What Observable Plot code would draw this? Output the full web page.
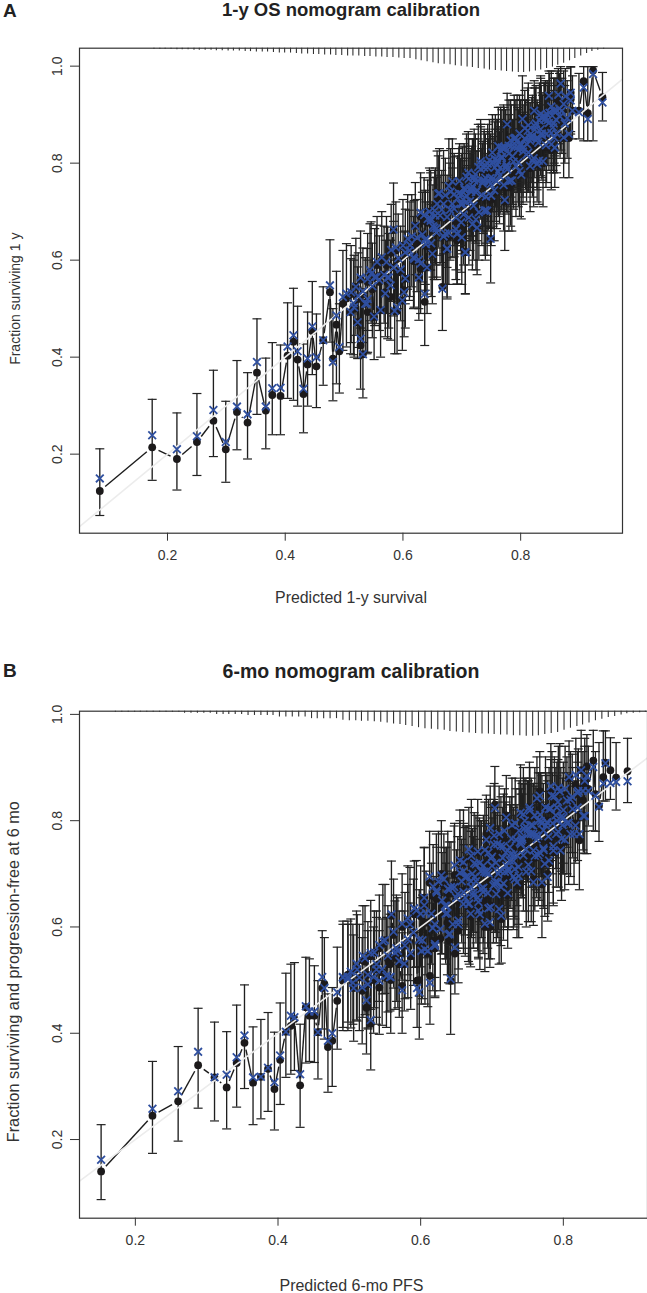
<!DOCTYPE html>
<html><head><meta charset="utf-8">
<script src="https://cdn.jsdelivr.net/npm/d3@7"></script>
<script src="https://cdn.jsdelivr.net/npm/@observablehq/plot@0.6"></script>
<style>
html,body{margin:0;padding:0;background:#fff;width:647px;height:1293px;overflow:hidden}
#page{position:relative;width:647px;height:1293px;font-family:"Liberation Sans",Arial,sans-serif;color:#222}
#page .t{position:absolute;left:0;width:702px;text-align:center;font-weight:bold;line-height:20px;white-space:nowrap}
#page .p{position:absolute;left:3px;font-weight:bold;font-size:19px;line-height:20px}
#a,#b{position:absolute;left:0}
#a{top:0}#b{top:620px}
svg{display:block}
</style></head><body>
<div id="page">
<div id="a"></div><div id="b"></div>
<div class="p" style="top:1px">A</div><div class="t" style="top:0px;font-size:18.5px">1-y OS nomogram calibration</div>
<div class="p" style="top:661px">B</div><div class="t" style="top:661px;font-size:19.5px">6-mo nomogram calibration</div>
</div>
<script>
const xTicksA=[0.2,0.4,0.6,0.8], yTicksA=[0.2,0.4,0.6,0.8,1.0];
const xTicksB=[0.2,0.4,0.6,0.8], yTicksB=[0.2,0.4,0.6,0.8,1.0];

// Panel A: predicted, Kaplan-Meier observed, bias-corrected, upper, lower
const aPred=[.085,.174,.216,.250,.278,.299,.318,.336,.352,.367,.378,.392,.404,.414,.421,.431,.438,.446,.453,
.4645,.476,.481,.487,.492,.498,.504,.511,.517,.523,.528,.532,.539,.546,.540,.551,.555,.562,.570,.574,.579,.586,.590,.599,.584,.604,.602,.611,.619,.627,.637,.638,.630,.647,.657,.667,.669,.675,.687,.692,.701,.706,
.923,.939,.914,.907,.899,.885,.868,.857,.862,.848,.834,.828,.820,.823,.803,.811,.800,.794,.789,.780,.777,.771,.757,.783,.749,.732,.738,.721,.743,.749,.726,.712,.698,.678,.658,.653,.647,.638,.692,.706,.675,.641,.650,.700,.718,.738,.760,.766,.804,.835,.845,.856,.873,.888,
.655,.662,.672,.680,.684,.690,.695,.703,.708,.714,.718,.724,.728,.734,.740,.745,.752,.755,.762,.768,.773,.776,.785,.790,.796,.798,.807,.813,.816,.826,.830,.838,.842,.852,.858,.866,.875];
const aObs=[.124,.214,.190,.225,.269,.210,.287,.265,.368,.290,.322,.320,.403,.432,.395,.324,.385,.454,.381,
.435,.534,.397,.467,.412,.510,.521,.493,.500,.472,.424,.406,.514,.572,.493,.483,.562,.497,.534,.565,.524,.495,.495,.517,.662,.562,.538,.624,.607,.564,.514,.641,.582,.679,.665,.545,.723,.624,.710,.641,.716,.617,
.991,.936,.903,.969,.908,.932,.963,.850,.908,.939,.867,.798,.805,.908,.894,.839,.839,.846,.850,.836,.880,.829,.808,.764,.757,.788,.764,.764,.702,.644,.667,.688,.716,.753,.716,.667,.681,.643,.654,.616,.623,.585,.613,.647,.674,.702,.798,.826,.832,.894,.901,.908,.922,.908,
.690,.735,.650,.700,.760,.660,.735,.690,.770,.720,.750,.680,.790,.730,.700,.760,.820,.740,.780,.830,.720,.790,.760,.850,.800,.780,.870,.820,.790,.880,.840,.800,.890,.860,.830,.910,.880];
const aCorr=[.150,.239,.210,.237,.291,.225,.298,.282,.390,.298,.336,.337,.422,.445,.412,.335,.397,.463,.400,
.435,.548,.390,.486,.421,.524,.531,.493,.503,.472,.438,.406,.510,.572,.520,.484,.565,.497,.531,.564,.548,.495,.503,.517,.663,.562,.534,.620,.603,.564,.530,.641,.593,.686,.665,.541,.716,.624,.706,.655,.716,.617,
.984,.925,.891,.956,.905,.929,.964,.853,.908,.939,.870,.798,.805,.908,.891,.839,.836,.846,.850,.836,.880,.829,.808,.764,.757,.788,.764,.764,.702,.644,.667,.688,.716,.753,.716,.667,.681,.643,.654,.616,.623,.585,.613,.647,.674,.702,.798,.826,.832,.894,.901,.908,.922,.908,
.692,.738,.655,.704,.762,.664,.738,.694,.772,.722,.752,.684,.792,.734,.703,.762,.822,.744,.782,.832,.724,.792,.764,.852,.802,.784,.872,.822,.794,.882,.842,.804,.892,.862,.832,.912,.882];
const aHi=[.211,.313,.285,.325,.373,.309,.393,.368,.479,.398,.430,.425,.512,.542,.505,.427,.493,.556,.489,
.545,.642,.50,.577,.510,.620,.634,.603,.610,.586,.541,.524,.624,.679,.60,.596,.672,.610,.641,.668,.641,.60,.603,.620,.759,.66,.658,.703,.723,.675,.627,.744,.703,.785,.771,.658,.826,.737,.813,.751,.833,.730,
.999,.987,.999,.999,.985,.998,.999,.93,.99,.99,.98,.90,.91,.97,.98,.93,.93,.94,.94,.93,.944,.92,.90,.86,.86,.89,.865,.87,.81,.77,.76,.78,.81,.85,.825,.77,.78,.74,.76,.72,.73,.69,.72,.75,.77,.80,.89,.915,.92,.96,.97,.975,.99,.98,
.79,.83,.76,.80,.85,.76,.83,.79,.86,.82,.85,.79,.88,.83,.80,.85,.90,.84,.87,.91,.82,.88,.86,.93,.89,.87,.95,.90,.88,.96,.92,.89,.97,.94,.91,.985,.96];
const aLo=[.0735,.146,.126,.156,.195,.142,.209,.190,.282,.211,.240,.240,.315,.311,.299,.244,.299,.364,.296,
.342,.431,.310,.345,.326,.414,.421,.407,.400,.397,.334,.316,.407,.47,.41,.395,.469,.400,.442,.438,.435,.407,.407,.414,.545,.46,.442,.517,.503,.476,.424,.538,.490,.579,.565,.455,.613,.524,.607,.551,.613,.531,
.846,.887,.846,.846,.85,.86,.827,.80,.82,.83,.774,.72,.73,.80,.79,.74,.75,.74,.75,.75,.79,.73,.71,.67,.667,.69,.67,.67,.61,.553,.57,.59,.62,.65,.61,.56,.58,.55,.55,.53,.52,.49,.51,.55,.58,.61,.71,.735,.75,.80,.81,.83,.85,.85,
.59,.64,.55,.60,.66,.56,.64,.59,.67,.62,.65,.58,.70,.63,.60,.66,.73,.64,.69,.74,.62,.70,.66,.77,.71,.69,.79,.74,.70,.80,.76,.71,.81,.78,.75,.84,.80];

// Panel A, dense part of the cloud (estimated)
const aPred2=[.615,.618,.621,.624,.627,.630,.633,.636,.639,.642,.645,.648,.651,.654,.657,.660,.663,.666,.669,.672,.675,.678,.681,.684,.687,.690,.693,.696,.699,.702,.705,.708,.711,.714,.717,.720,.723,.726,.729,.732,.735,.738,.741,.744,.747,.750,.753,.756,.759,.762,.765,.768,.771,.774,.777,.780,.783,.786,.789,.792,.795,.798,.801,.804,.807,.810,.813,.816,.819,.822,.825,.828,.831,.834,.837,.840,.843,.846,.849,.852,.855,.858,.861,.864,.867,.870,.873,.876,.879,.882,.885];
const aObs2=[.645,.598,.671,.634,.597,.690,.653,.681,.629,.677,.700,.623,.666,.694,.657,.725,.688,.696,.649,.722,.685,.648,.741,.704,.732,.680,.728,.751,.674,.717,.745,.708,.776,.739,.747,.700,.773,.736,.699,.792,.755,.783,.731,.779,.802,.725,.768,.796,.759,.827,.790,.798,.751,.824,.787,.750,.843,.806,.834,.782,.830,.853,.776,.819,.847,.810,.878,.841,.849,.802,.875,.838,.801,.894,.857,.885,.833,.881,.904,.827,.870,.898,.861,.929,.892,.900,.853,.926,.889,.852,.945];
const aCorr2=[.649,.606,.671,.646,.601,.698,.653,.693,.633,.685,.700,.635,.670,.702,.657,.737,.692,.704,.649,.734,.689,.656,.741,.716,.736,.688,.728,.763,.678,.725,.745,.720,.780,.747,.747,.712,.777,.744,.699,.804,.759,.791,.731,.791,.806,.733,.768,.808,.763,.835,.790,.810,.755,.832,.787,.762,.847,.814,.834,.794,.834,.861,.776,.831,.851,.818,.878,.853,.853,.810,.875,.850,.805,.902,.857,.897,.837,.889,.904,.839,.874,.906,.861,.941,.896,.908,.853,.938,.893,.860,.945];
const aHi2=[.735,.69,.76,.725,.69,.78,.74,.77,.72,.765,.79,.715,.755,.785,.745,.815,.775,.785,.74,.81,.775,.74,.83,.79,.82,.77,.815,.84,.765,.805,.835,.795,.865,.825,.835,.79,.86,.825,.79,.88,.84,.87,.82,.865,.89,.815,.855,.885,.845,.915,.875,.885,.84,.91,.875,.84,.93,.89,.92,.87,.915,.94,.865,.905,.93,.895,.965,.925,.935,.89,.955,.925,.89,.975,.94,.965,.92,.96,.985,.915,.95,.975,.945,.995,.97,.975,.94,.995,.97,.935,.999];
const aLo2=[.545,.50,.57,.535,.50,.59,.555,.58,.53,.58,.60,.525,.565,.595,.56,.625,.59,.595,.55,.62,.585,.55,.64,.605,.63,.58,.63,.65,.575,.62,.645,.61,.675,.64,.65,.60,.67,.64,.60,.69,.66,.685,.635,.68,.705,.63,.67,.70,.665,.73,.695,.70,.66,.73,.695,.66,.75,.715,.74,.69,.74,.76,.685,.73,.755,.72,.785,.75,.76,.71,.785,.75,.715,.805,.77,.80,.75,.795,.82,.745,.785,.815,.78,.845,.81,.82,.77,.845,.81,.77,.865];
const aPred3=[.512,.516,.520,.524,.528,.532,.536,.540,.544,.548,.552,.556,.560,.564,.568,.572,.576,.580,.584,.588,.592,.596,.600,.604,.608,.612,
.700,.704,.708,.712,.716,.720,.724,.728,.732,.736,.740,.744,.748,.752,.756,.760,.764,.768,.772,.776,.780,.784,.788,.792,.796,.800,.804,.808,.812,.816,.820,.824,.828,.832,.836,.840,.844,.848,.852,.856,.860];
const aObs3=[.530,.505,.545,.520,.560,.530,.510,.555,.575,.540,.565,.590,.555,.600,.570,.590,.560,.615,.585,.620,.600,.575,.630,.610,.640,.625,
.730,.749,.723,.762,.741,.760,.734,.763,.787,.756,.770,.789,.763,.802,.781,.800,.774,.803,.827,.796,.810,.829,.803,.842,.821,.840,.814,.843,.867,.836,.850,.869,.843,.882,.861,.880,.854,.883,.907,.876,.890];
const aCorr3=[.534,.511,.545,.526,.564,.536,.510,.561,.579,.546,.565,.596,.559,.606,.570,.596,.564,.621,.585,.626,.604,.581,.630,.616,.644,.631,
.736,.749,.733,.768,.741,.770,.740,.763,.797,.762,.770,.799,.769,.802,.791,.806,.774,.813,.833,.796,.820,.835,.803,.852,.827,.840,.824,.849,.867,.846,.856,.869,.853,.888,.861,.890,.860,.883,.917,.882,.890];
const aHi3=[.63,.60,.645,.615,.66,.625,.605,.655,.675,.635,.665,.69,.65,.70,.67,.69,.655,.715,.68,.72,.695,.67,.725,.705,.735,.72,
.82,.84,.81,.85,.83,.85,.825,.85,.875,.845,.86,.88,.85,.89,.87,.89,.865,.89,.915,.885,.90,.92,.89,.93,.91,.93,.90,.93,.955,.925,.94,.955,.93,.965,.945,.965,.94,.965,.99,.96,.975];
const aLo3=[.43,.405,.445,.42,.46,.43,.41,.455,.475,.44,.465,.49,.455,.50,.47,.49,.46,.515,.485,.52,.50,.475,.53,.51,.54,.525,
.63,.65,.62,.66,.64,.66,.635,.665,.685,.655,.67,.69,.665,.70,.68,.70,.675,.705,.725,.70,.71,.73,.705,.745,.72,.74,.715,.745,.77,.74,.75,.77,.745,.785,.765,.785,.76,.785,.81,.78,.795];

const aRugX=[.177,.187,.196,.206,.216,.225,.235,.245,.254,.264,.274,.283,.293,.303,.312,.322,.332,.341,.351,.361,.370,.380,.390,.399,.409,.419,.428,.438,.448,.457,.467,.477,.486,.496,.506,.515,.525,.535,.544,.554,.564,.573,.583,.593,.602,.612,.622,.631,.641,.651,.660,.670,.680,.689,.699,.709,.718,.728,.738,.747,.757,.767,.776,.786,.796,.805,.815,.825,.834,.844,.854,.863,.873,.883,.892,.902,.912,.921,.931,.941];
const aRugH=[.002,.002,.002,.002,.003,.003,.003,.004,.004,.004,.004,.005,.005,.006,.006,.006,.007,.007,.008,.008,.008,.009,.010,.010,.010,.011,.012,.012,.013,.013,.014,.014,.015,.015,.016,.016,.016,.017,.017,.018,.018,.019,.019,.020,.021,.021,.024,.026,.028,.030,.032,.033,.034,.036,.037,.039,.040,.042,.043,.045,.046,.047,.048,.049,.050,.050,.049,.047,.045,.042,.039,.035,.031,.026,.021,.016,.011,.007,.004,.002];

// Panel B
const bPred=[.152,.224,.260,.288,.311,.328,.342,.353,.365,.376,.386,.395,.403,.411,.418,.423,.431,.439,.444,.451,.456,.462,.465,.470,.476,.483,.491,.498,
.491,.498,.505,.511,.519,.524,.526,.530,.535,.538,.542,.547,.552,.557,.559,.564,.568,.574,.577,.582,.585,.591,.595,.598,.601,.606,.605,.613,.617,.620,.634,.639,.642,
.622,.620,.629,.636,.638,.641,.648,.647,.653,.652,.662,.660,.671,.671,.674,.681,.685,.688,.690,.692,.695,.698,.697,.704,.706,.704,.713,.711,.720,.725,.732,.732,.738,.742,.739,.746,.753,.751,.758,.758,.765,.767,.767,.774,.778,.777,.784,.791,.791,.796,.805,.810,.817,.821,.828,.835,.845,
.890,.874,.866,.856,.859,.850,.842,.833,.830,
.655,.660,.668,.676,.680,.683,.689,.694,.700,.703,.708,.710,.716,.718,.722,.728,.730,.735,.741,.744,.748,.755,.760,.763,.770,.772,.780,.786,.793,.799,.802,.808,.813,.820];
const bObs=[.140,.245,.272,.340,.317,.298,.344,.382,.307,.318,.333,.295,.350,.403,.414,.427,.302,.449,.433,.433,.402,.485,.493,.374,.386,.461,.502,.510,
.499,.510,.495,.520,.537,.448,.492,.418,.552,.520,.486,.568,.504,.530,.621,.542,.549,.489,.530,.574,.605,.624,.499,.500,.555,.555,.640,.508,.574,.561,.640,.586,.499,
.672,.560,.700,.645,.675,.575,.55,.68,.60,.665,.70,.65,.74,.68,.66,.635,.68,.72,.60,.775,.745,.64,.60,.685,.665,.83,.615,.71,.81,.73,.715,.695,.785,.775,.765,.805,.825,.78,.69,.78,.805,.855,.745,.72,.70,.80,.85,.83,.805,.75,.845,.78,.795,.86,.81,.86,.85,
.893,.881,.895,.882,.909,.828,.913,.902,.809,
.700,.720,.640,.690,.740,.620,.700,.660,.730,.770,.680,.630,.750,.700,.660,.790,.720,.680,.760,.810,.700,.790,.730,.840,.680,.780,.820,.740,.860,.790,.760,.880,.820,.850];
const bCorr=[.162,.258,.291,.365,.317,.322,.355,.396,.317,.318,.335,.308,.358,.403,.433,.430,.323,.451,.441,.441,.402,.506,.485,.386,.400,.477,.506,.506,
.505,.502,.495,.520,.546,.462,.492,.425,.552,.520,.499,.573,.508,.506,.624,.552,.555,.481,.531,.577,.605,.635,.485,.477,.555,.558,.641,.495,.598,.564,.640,.586,.502,
.668,.568,.697,.640,.672,.587,.562,.675,.612,.662,.693,.643,.734,.675,.659,.631,.672,.715,.606,.764,.740,.637,.609,.681,.662,.824,.621,.706,.806,.725,.709,.690,.781,.769,.759,.800,.819,.775,.684,.775,.800,.847,.740,.719,.694,.797,.847,.825,.800,.744,.838,.775,.791,.856,.809,.856,.847,
.874,.873,.871,.870,.908,.826,.901,.884,.809,
.702,.722,.644,.694,.742,.624,.704,.664,.732,.772,.684,.634,.752,.704,.664,.792,.724,.684,.762,.812,.704,.792,.734,.842,.684,.782,.822,.744,.862,.792,.764,.882,.822,.852];
const bHi=[.228,.347,.375,.447,.421,.403,.453,.491,.412,.426,.439,.402,.457,.513,.530,.533,.417,.543,.540,.527,.499,.593,.580,.474,.486,.562,.605,.605,
.611,.611,.605,.623,.640,.549,.593,.527,.630,.618,.593,.680,.618,.624,.724,.649,.655,.589,.630,.680,.712,.724,.593,.590,.655,.649,.749,.605,.687,.668,.749,.692,.605,
.775,.66,.80,.75,.78,.68,.66,.79,.715,.77,.787,.755,.84,.78,.77,.74,.79,.81,.70,.848,.84,.74,.71,.785,.77,.902,.72,.81,.885,.83,.81,.80,.875,.87,.86,.869,.90,.875,.79,.87,.89,.93,.84,.82,.80,.89,.93,.91,.885,.84,.92,.865,.875,.935,.89,.94,.93,
.955,.947,.956,.969,.969,.947,.970,.962,.94,
.80,.82,.74,.79,.84,.72,.80,.76,.83,.87,.78,.73,.85,.80,.76,.88,.82,.78,.86,.90,.80,.88,.83,.92,.78,.87,.90,.84,.94,.88,.85,.95,.90,.93];
const bLo=[.087,.174,.197,.259,.235,.220,.261,.296,.228,.239,.253,.218,.266,.317,.323,.330,.223,.344,.347,.345,.314,.408,.389,.289,.300,.370,.405,.421,
.411,.405,.417,.423,.430,.361,.408,.331,.448,.417,.398,.474,.411,.442,.530,.445,.448,.400,.442,.467,.499,.524,.411,.389,.455,.455,.542,.417,.480,.467,.540,.495,.398,
.570,.47,.549,.54,.57,.493,.474,.57,.521,.56,.585,.55,.64,.58,.56,.543,.58,.62,.516,.67,.645,.54,.524,.59,.57,.73,.532,.61,.71,.635,.615,.60,.69,.68,.67,.71,.73,.685,.603,.69,.71,.76,.65,.62,.611,.71,.76,.74,.71,.668,.75,.695,.72,.78,.739,.79,.78,
.834,.820,.840,.837,.837,.761,.781,.738,.738,
.60,.62,.53,.59,.64,.52,.60,.56,.63,.67,.58,.53,.65,.60,.56,.70,.62,.58,.66,.72,.60,.70,.63,.76,.58,.68,.73,.64,.78,.70,.67,.80,.73,.77];

// Panel B, dense part of the cloud (estimated)
const bPred2=[.600,.6025,.605,.6075,.610,.6125,.615,.6175,.620,.6225,.625,.6275,.630,.6325,.635,.6375,.640,.6425,.645,.6475,.650,.6525,.655,.6575,.660,.6625,.665,.6675,.670,.6725,.675,.6775,.680,.6825,.685,.6875,.690,.6925,.695,.6975,.700,.7025,.705,.7075,.710,.7125,.715,.7175,.720,.7225,.725,.7275,.730,.7325,.735,.7375,.740,.7425,.745,.7475,.750,.7525,.755,.7575,.760,.7625,.765,.7675,.770,.7725,.775,.7775,.780,.7825,.785,.7875,.790,.7925,.795,.7975,.800,.8025,.805,.8075,.810,.8125,.815,.8175,.820,.8225,.825,.8275,.830];
const bObs2=[.620,.563,.655,.608,.550,.683,.625,.658,.600,.653,.685,.578,.645,.678,.625,.608,.665,.663,.605,.698,.650,.593,.725,.668,.700,.643,.695,.728,.620,.688,.720,.668,.650,.708,.705,.648,.740,.693,.635,.768,.710,.743,.685,.738,.770,.663,.730,.763,.710,.693,.750,.748,.690,.783,.735,.678,.810,.753,.785,.728,.780,.813,.705,.773,.805,.753,.735,.793,.790,.733,.825,.778,.720,.853,.795,.828,.770,.823,.855,.748,.815,.848,.795,.778,.835,.833,.775,.868,.820,.763,.895,.838,.870];
const bCorr2=[.625,.575,.655,.626,.555,.695,.625,.676,.605,.665,.685,.596,.650,.690,.625,.626,.670,.675,.605,.716,.655,.605,.725,.686,.705,.655,.695,.746,.625,.700,.720,.686,.655,.720,.705,.666,.745,.705,.635,.786,.715,.755,.685,.756,.775,.675,.730,.781,.715,.705,.750,.766,.695,.795,.735,.696,.815,.765,.785,.746,.785,.825,.705,.791,.810,.765,.735,.811,.795,.745,.825,.796,.725,.865,.795,.846,.775,.835,.855,.766,.820,.860,.795,.796,.840,.845,.775,.886,.825,.775,.895,.856,.875];
const bHi2=[.715,.66,.75,.705,.645,.78,.72,.755,.695,.75,.78,.675,.74,.775,.72,.705,.76,.76,.70,.795,.745,.69,.82,.765,.795,.74,.79,.825,.715,.785,.815,.765,.745,.805,.80,.745,.835,.79,.73,.865,.805,.84,.78,.835,.865,.76,.825,.86,.805,.79,.845,.845,.785,.88,.83,.775,.905,.85,.88,.825,.875,.91,.80,.87,.90,.85,.83,.89,.885,.83,.92,.875,.815,.945,.89,.92,.865,.915,.945,.845,.91,.94,.89,.875,.93,.925,.87,.955,.91,.86,.97,.93,.955];
const bLo2=[.525,.465,.56,.51,.45,.585,.53,.56,.505,.555,.585,.48,.55,.58,.53,.51,.565,.565,.51,.60,.555,.495,.625,.57,.605,.545,.60,.63,.525,.59,.62,.57,.555,.61,.61,.55,.64,.595,.54,.67,.615,.645,.59,.64,.675,.565,.635,.665,.615,.595,.655,.65,.595,.685,.64,.58,.715,.655,.69,.63,.685,.715,.61,.675,.71,.655,.64,.695,.695,.635,.73,.68,.625,.76,.70,.735,.675,.73,.76,.65,.72,.755,.70,.68,.74,.74,.68,.775,.725,.67,.80,.745,.78];
const bPred3=[.502,.506,.510,.514,.518,.522,.526,.530,.534,.538,.542,.546,.550,.554,.558,.562,.566,.570,.574,.578,.582,.586,.590,.594,.598,
.660,.6635,.667,.6705,.674,.6775,.681,.6845,.688,.6915,.695,.6985,.702,.7055,.709,.7125,.716,.7195,.723,.7265,.730,.7335,.737,.7405,.744,.7475,.751,.7545,.758,.7615,.765,.7685,.772,.7755,.779,.7825,.786,.7895,.793,.7965,.800];
const bObs3=[.510,.485,.525,.505,.480,.535,.510,.545,.500,.530,.560,.515,.575,.540,.500,.585,.560,.530,.600,.565,.610,.545,.590,.625,.570,
.660,.694,.637,.686,.659,.718,.641,.705,.668,.702,.695,.729,.672,.721,.694,.753,.676,.740,.703,.737,.730,.764,.707,.756,.729,.788,.711,.775,.738,.772,.765,.799,.742,.791,.764,.823,.746,.810,.773,.807,.800];
const bCorr3=[.516,.485,.531,.505,.486,.541,.510,.551,.506,.530,.566,.521,.575,.546,.506,.591,.560,.536,.606,.565,.616,.551,.590,.631,.576,
.666,.694,.643,.686,.665,.718,.647,.705,.674,.702,.701,.729,.678,.721,.700,.753,.682,.740,.709,.737,.736,.764,.713,.756,.735,.788,.717,.775,.744,.772,.771,.799,.748,.791,.770,.823,.752,.810,.779,.807,.806];
const bHi3=[.615,.585,.63,.605,.58,.64,.61,.65,.60,.63,.66,.615,.68,.64,.60,.69,.66,.63,.70,.665,.715,.645,.69,.725,.67,
.755,.79,.73,.78,.755,.81,.735,.80,.765,.795,.79,.825,.765,.815,.79,.845,.77,.835,.80,.83,.825,.86,.80,.85,.825,.88,.805,.87,.83,.865,.86,.89,.835,.885,.855,.915,.84,.90,.865,.90,.89];
const bLo3=[.41,.385,.425,.405,.38,.435,.41,.445,.40,.43,.46,.415,.475,.44,.40,.485,.46,.43,.50,.465,.51,.445,.49,.525,.47,
.56,.595,.535,.585,.56,.62,.54,.605,.57,.60,.595,.63,.57,.62,.595,.655,.575,.64,.60,.635,.63,.665,.605,.655,.63,.69,.61,.675,.64,.67,.665,.70,.64,.69,.665,.725,.645,.71,.675,.705,.70];

const bRugX=[.172,.181,.190,.199,.207,.216,.225,.234,.243,.252,.261,.269,.278,.287,.296,.305,.314,.323,.331,.340,.349,.358,.367,.376,.385,.393,.402,.411,.420,.429,.438,.447,.455,.464,.473,.482,.491,.500,.509,.517,.526,.535,.544,.553,.562,.571,.579,.588,.597,.606,.615,.624,.633,.641,.650,.659,.668,.677,.686,.695,.703,.712,.721,.730,.739,.748,.757,.765,.774,.783,.792,.801,.810,.819,.827,.836,.845,.854,.863,.872,.881,.889,.898,.907,.915];
const bRugH=[.002,.002,.002,.002,.002,.002,.002,.002,.002,.002,.002,.004,.004,.004,.004,.004,.006,.006,.006,.006,.006,.008,.008,.008,.008,.008,.011,.011,.011,.011,.011,.014,.014,.014,.014,.014,.017,.018,.018,.019,.019,.020,.021,.022,.024,.025,.027,.029,.031,.033,.034,.035,.036,.038,.039,.040,.041,.042,.043,.043,.044,.045,.045,.046,.046,.047,.047,.046,.044,.042,.040,.036,.032,.029,.026,.022,.018,.015,.012,.010,.007,.005,.004,.003,.002];

const capSymbol={draw(c,size){const r=Math.sqrt(size/Math.PI);c.moveTo(-r,0);c.lineTo(r,0);}};

function panel(sel,cfg){
  const rows=d3.sort(cfg.pred.map((x,i)=>({x,y:cfg.obs[i],c:cfg.corr[i],hi:cfg.hi[i],lo:cfg.lo[i]})),d=>d.x);
  const rug=cfg.rugX.map((x,i)=>({x,y2:cfg.yDomain[1]-cfg.rugH[i]}));
  const kx=(cfg.width-cfg.ml-cfg.mr)/(cfg.xDomain[1]-cfg.xDomain[0]);
  const ky=(cfg.height-cfg.mt-cfg.mb)/(cfg.yDomain[1]-cfg.yDomain[0]);
  const gap=7,segs=[];
  d3.pairs(rows).forEach(([a,b])=>{
    const dx=(b.x-a.x)*kx,dy=(b.y-a.y)*ky,l=Math.hypot(dx,dy);
    if(l>2*gap+1){const f=gap/l;segs.push({x1:a.x+(b.x-a.x)*f,y1:a.y+(b.y-a.y)*f,x2:b.x-(b.x-a.x)*f,y2:b.y-(b.y-a.y)*f});}
  });
  const txt={fill:"#333",stroke:"none",textAnchor:"middle",lineAnchor:"middle"};
  const fig=Plot.plot({
    width:cfg.width,height:cfg.height,marginTop:cfg.mt,marginBottom:cfg.mb,marginLeft:cfg.ml,marginRight:cfg.mr,
    style:{fontFamily:"Liberation Sans",fontSize:"14px",color:"#333",background:"#fff"},
    x:{domain:cfg.xDomain},y:{domain:cfg.yDomain},
    marks:[
      Plot.ruleX(rug,{x:"x",y1:cfg.yDomain[1],y2:"y2",stroke:"#333",strokeWidth:1.1}),
      Plot.ruleX(rows,{x:"x",y1:"lo",y2:"hi",stroke:"#1f1f1f",strokeWidth:1.35}),
      Plot.dot(rows,{x:"x",y:"hi",symbol:capSymbol,r:4.5,stroke:"#222",strokeWidth:1.2}),
      Plot.dot(rows,{x:"x",y:"lo",symbol:capSymbol,r:4.5,stroke:"#222",strokeWidth:1.2}),
      Plot.link(segs,{x1:"x1",y1:"y1",x2:"x2",y2:"y2",stroke:"#1c1c1c",strokeWidth:1.4}),
      Plot.dot(rows,{x:"x",y:"y",r:3.9,fill:"#1c1a1b"}),
      Plot.link([cfg.xDomain],{x1:d=>d[0],y1:d=>d[0],x2:d=>d[1],y2:d=>d[1],stroke:"#ececec",strokeWidth:1.6}),
      Plot.dot(rows,{x:"x",y:"c",symbol:"times",r:3.6,stroke:"#2f4f9f",strokeWidth:1.8}),
      Plot.frame({stroke:"#333",strokeWidth:1.2}),
      Plot.axisX({ticks:cfg.xTicks,tickFormat:".1f",tickSize:8,tickPadding:9,stroke:"#333",label:null}),
      Plot.axisY({ticks:cfg.yTicks,tickFormat:".1f",tickSize:9,tickPadding:9,tickRotate:-90,stroke:"#333",label:null}),
      Plot.text([cfg.xLabel],{text:d=>d,frameAnchor:"bottom",dx:cfg.xLab[0],dy:cfg.xLab[1],fontSize:cfg.xLab[2],...txt}),
      Plot.text([cfg.yLabel],{text:d=>d,frameAnchor:"left",dx:cfg.yLab[0],dy:cfg.yLab[1],fontSize:cfg.yLab[2],rotate:-90,...txt})
    ]
  });
  document.querySelector(sel).appendChild(fig);
}

panel("#a",{width:647,height:620,mt:47.7,mb:87.3,ml:79,mr:25,xDomain:[0.0505,0.973],yDomain:[0.037,1.037],
  pred:[...aPred,...aPred2,...aPred3],obs:[...aObs,...aObs2,...aObs3],corr:[...aCorr,...aCorr2,...aCorr3],hi:[...aHi,...aHi2,...aHi3],lo:[...aLo,...aLo2,...aLo3],
  rugX:aRugX,rugH:aRugH,xTicks:xTicksA,yTicks:yTicksA,
  xLabel:"Predicted 1-y survival",yLabel:"Fraction surviving 1 y",xLab:[0,65,15.9],yLab:[-64,8,14]});
panel("#b",{width:647,height:673,mt:90.7,mb:75.3,ml:79,mr:0,xDomain:[0.1217,0.918],yDomain:[0.052,1.006],
  pred:[...bPred,...bPred2,...bPred3],obs:[...bObs,...bObs2,...bObs3],corr:[...bCorr,...bCorr2,...bCorr3],hi:[...bHi,...bHi2,...bHi3],lo:[...bLo,...bLo2,...bLo3],
  rugX:bRugX,rugH:bRugH,xTicks:xTicksB,yTicks:yTicksB,
  xLabel:"Predicted 6-mo PFS",yLabel:"Fraction surviving and progression-free at 6 mo",xLab:[-12,68,16],yLab:[-66,7,16.3]});
</script>
</body></html>
